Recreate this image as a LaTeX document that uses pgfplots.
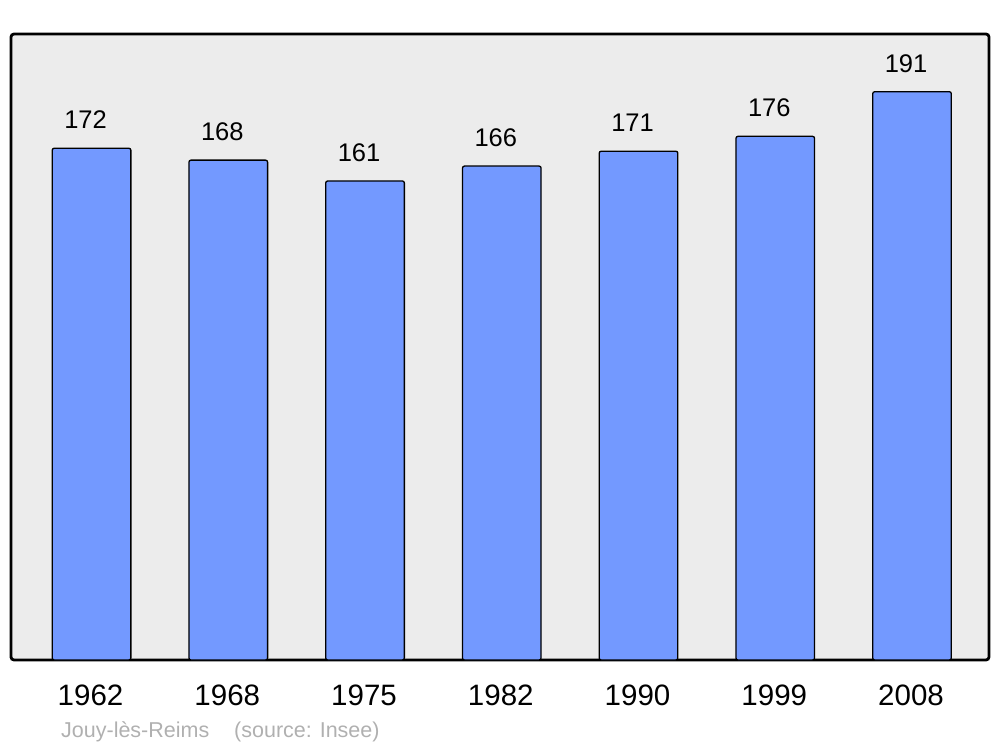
\documentclass[border=0pt]{standalone}
\usepackage{pgfplots}
\pgfplotsset{compat=1.18}
\usepackage{fontspec}
\setmainfont{Liberation Sans}
\definecolor{barblue}{HTML}{7399FF}
\definecolor{bggray}{HTML}{ECECEC}
\definecolor{footgray}{HTML}{B0B0B0}
\begin{document}
\begin{tikzpicture}[x=1pt,y=1pt]
\path (0,0) rectangle (1000,747);
\begin{axis}[
  at={(11pt,87pt)}, anchor=south west,
  width=978pt, height=626pt, scale only axis,
  xmin=-0.589, xmax=6.563, ymin=0, ymax=210.4,
  axis background/.style={fill=bggray},
  axis line style={line width=2.8pt, rounded corners=3pt},
  ybar, bar width=0.575, bar shift=0pt,
  xtick=data,
  xticklabels={1962,1968,1975,1982,1990,1999,2008},
  xtick style={draw=none}, ytick=\empty,
  xticklabel style={anchor=base, yshift=-41pt, xshift=-1pt, font=\fontsize{29.5}{31}\selectfont},
  /pgf/number format/assume math mode=true,
  nodes near coords,
  nodes near coords style={anchor=base, yshift=19.5pt, xshift=-6pt, font=\fontsize{25.5}{27}\selectfont},
  clip=false,
]
\addplot[fill=barblue, draw=black, line width=1.3pt, rounded corners=2pt] coordinates {
  (0,172) (1,168) (2,161) (3,166) (4,171) (5,176) (6,191)
};
\end{axis}
\node[anchor=base west, text=footgray, font=\fontsize{21.5}{24}\selectfont, inner sep=0pt] at (61,10) {Jouy-lès-Reims};
\node[anchor=base west, text=footgray, font=\fontsize{21.5}{24}\selectfont, inner sep=0pt] at (234,10) {(source: Insee)};
\end{tikzpicture}
\end{document}
